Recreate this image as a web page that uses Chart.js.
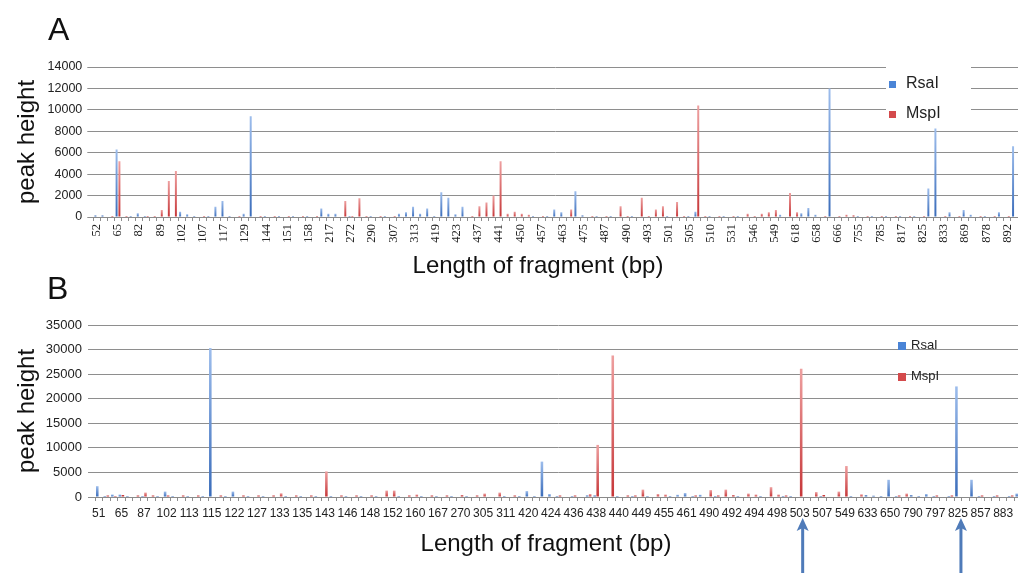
<!DOCTYPE html>
<html>
<head>
<meta charset="utf-8">
<script src="https://cdn.jsdelivr.net/npm/chart.js@4.4.1/dist/chart.umd.min.js"></script>
<style>
  html, body { margin: 0; padding: 0; background: #fff; }
  body { width: 1018px; height: 573px; overflow: hidden; position: relative; font-family: 'Liberation Sans', Arial, sans-serif; }
  canvas { position: absolute; left: 0; }
  #chartA { top: 0; }
  #chartB { top: 280px; }
  .panel { position: absolute; font-size: 32px; line-height: 38px; color: #111; }
  .xtitle { position: absolute; width: 400px; text-align: center; font-size: 24px; line-height: 28px; color: #111; }
  .sw { position: absolute; }
  .lt { position: absolute; color: #222; white-space: nowrap; }
</style>
</head>
<body>
<canvas id="chartA" width="1018" height="290"></canvas>
<canvas id="chartB" width="1022" height="293"></canvas>
<div class="panel" style="left:48px;top:10px">A</div>
<div class="panel" style="left:47px;top:269px">B</div>
<div class="xtitle" style="left:338px;top:251px">Length of fragment (bp)</div>
<div class="xtitle" style="left:346px;top:529px">Length of fragment (bp)</div>
<div id="legendA"></div>
<div id="legendB"></div>
<script>
// series names
const seriesNames = ['RsaI', 'MspI'];

// panel A: every third fragment length is labelled
const labelsA = ['52', '65', '82', '89', '102', '107', '117', '129', '144', '151', '158', '217', '272', '290',
    '307', '313', '419', '423', '437', '441', '450', '457', '463', '475', '487', '490', '493', '501', '505',
    '510', '531', '546', '549', '618', '658', '666', '755', '785', '817', '825', '833', '869', '878', '892'];

const rsaA = [
    150, 150, 0, 6300, 0, 100, 350, 100, 0, 0,
    0, 0, 500, 250, 100, 0, 100, 950, 1500, 100,
    0, 300, 9400, 0, 100, 0, 100, 0, 100, 0,
    100, 0, 800, 300, 300, 0, 100, 0, 0, 100,
    0, 100, 0, 300, 450, 950, 300, 800, 100, 2300,
    1800, 250, 950, 0, 0, 0, 0, 0, 0, 0,
    0, 0, 100, 0, 100, 700, 450, 0, 2400, 150,
    0, 100, 0, 100, 0, 0, 100, 0, 0, 0,
    0, 100, 0, 0, 100, 500, 0, 100, 0, 100,
    0, 100, 0, 0, 0, 0, 0, 200, 0, 0,
    350, 850, 200, 0, 12000, 0, 0, 0, 100, 0,
    100, 0, 100, 0, 100, 0, 100, 0, 2650, 8250,
    0, 450, 0, 650, 200, 0, 100, 0, 450, 0,
    6600
];
const mspA = [
    0, 0, 100, 5200, 100, 0, 0, 100, 100, 650,
    3350, 4300, 0, 0, 0, 100, 0, 0, 0, 0,
    100, 0, 0, 100, 0, 100, 0, 100, 0, 100,
    0, 100, 0, 0, 0, 1500, 100, 1750, 100, 0,
    100, 0, 100, 0, 0, 0, 0, 0, 0, 0,
    0, 0, 0, 100, 1000, 1350, 2000, 5200, 300, 500,
    300, 200, 0, 100, 0, 0, 0, 700, 0, 0,
    100, 0, 100, 0, 1000, 100, 0, 1800, 100, 700,
    1000, 0, 1400, 100, 0, 10400, 100, 0, 100, 0,
    100, 0, 300, 100, 300, 450, 650, 0, 2250, 450,
    0, 0, 0, 100, 0, 100, 200, 150, 0, 100,
    0, 100, 0, 100, 0, 100, 0, 100, 0, 0,
    100, 0, 100, 0, 0, 100, 0, 100, 0, 100,
    0
];
const ticksA = [0, 2000, 4000, 6000, 8000, 10000, 12000, 14000];

// panel B
const labelsB = ['51', '65', '87', '102', '113', '115', '122', '127', '133', '135', '143', '146', '148', '152',
    '160', '167', '270', '305', '311', '420', '424', '436', '438', '440', '449', '455', '461', '490', '492',
    '494', '498', '503', '507', '549', '633', '650', '790', '797', '825', '857', '883'];

const rsaB = [
    2200, 200, 500, 500, 200, 0, 200, 0, 200, 1100,
    200, 0, 200, 0, 200, 30300, 0, 200, 1100, 0,
    200, 0, 200, 0, 0, 200, 0, 200, 0, 200,
    0, 200, 0, 200, 0, 200, 0, 200, 0, 0,
    200, 0, 0, 200, 0, 200, 0, 200, 0, 200,
    0, 0, 0, 0, 200, 0, 200, 1200, 200, 7200,
    600, 200, 0, 200, 0, 300, 300, 0, 0, 200,
    0, 200, 0, 200, 0, 0, 200, 450, 800, 200,
    450, 0, 200, 0, 0, 200, 0, 0, 200, 0,
    0, 200, 200, 0, 0, 0, 200, 0, 0, 0,
    200, 0, 350, 250, 200, 3500, 200, 0, 350, 200,
    600, 200, 0, 200, 22500, 0, 3500, 200, 0, 200,
    0, 200, 700
];
const mspB = [
    0, 300, 200, 400, 0, 300, 900, 300, 0, 300,
    0, 300, 0, 300, 0, 0, 300, 0, 0, 300,
    0, 300, 0, 300, 750, 0, 300, 0, 300, 0,
    5200, 0, 300, 0, 300, 0, 300, 0, 1300, 1300,
    0, 300, 500, 0, 300, 0, 300, 0, 350, 0,
    300, 700, 0, 900, 0, 300, 0, 0, 0, 0,
    0, 300, 0, 300, 0, 600, 10600, 0, 28800, 0,
    300, 300, 1500, 0, 600, 500, 0, 0, 0, 300,
    0, 1400, 300, 1500, 350, 0, 700, 500, 0, 2000,
    500, 300, 0, 26100, 0, 1000, 400, 0, 1100, 6300,
    0, 550, 0, 0, 0, 0, 300, 700, 0, 0,
    0, 300, 0, 300, 0, 0, 0, 300, 0, 300,
    0, 300, 0
];
const ticksB = [0, 5000, 10000, 15000, 20000, 25000, 30000, 35000];
const arrowLabelsB = ['503', '825'];

const blueLight = '#9dbdec', blueDark = '#3a6cba';
const redLight = '#eea0a0', redDark = '#c63638';

// labelled category followed by two unlabelled ones
function spread(labels, n) {
    return labels.flatMap(l => [l, '', '']).slice(0, n);
}

function barFill(light, dark) {
    return function(ctx) {
        const chart = ctx.chart;
        if (ctx.type !== 'data' || !chart.chartArea || !chart.scales.y) return dark;
        const y = chart.scales.y;
        const top = y.getPixelForValue(ctx.raw || 0);
        const bottom = y.getPixelForValue(0);
        if (bottom - top < 2) return dark;
        const g = chart.ctx.createLinearGradient(0, top, 0, bottom);
        g.addColorStop(0, light);
        g.addColorStop(1, dark);
        return g;
    };
}

const arrowPlugin = {
    id: 'arrows',
    afterDraw(chart) {
        if (!chart.options.plugins.arrows) return;
        const x = chart.scales.x;
        const c = chart.ctx;
        const cats = chart.data.labels;
        c.save();
        c.strokeStyle = '#4f7bb9';
        c.fillStyle = '#4f7bb9';
        c.lineWidth = 3;
        chart.options.plugins.arrows.labels.forEach(lbl => {
            const px = x.getPixelForValue(cats.indexOf(lbl)) + 3;
            const tip = chart.height - 55;
            c.beginPath();
            c.moveTo(px, tip + 8);
            c.lineTo(px, chart.height);
            c.stroke();
            c.beginPath();
            c.moveTo(px, tip);
            c.lineTo(px - 6, tip + 13);
            c.lineTo(px, tip + 10);
            c.lineTo(px + 6, tip + 13);
            c.closePath();
            c.fill();
        });
        c.restore();
    }
};

function makeChart(id, cats, rsa, msp, yTicks, cfg) {
    const ctx = document.getElementById(id).getContext('2d');
    return new Chart(ctx, {
        type: 'bar',
        data: {
            labels: cats,
            datasets: [
                { label: seriesNames[0], data: rsa, backgroundColor: barFill(blueLight, blueDark),
                  categoryPercentage: 0.8, barPercentage: cfg.barPct },
                { label: seriesNames[1], data: msp, backgroundColor: barFill(redLight, redDark),
                  categoryPercentage: 0.8, barPercentage: cfg.barPct }
            ]
        },
        plugins: [arrowPlugin],
        options: {
            responsive: false,
            animation: false,
            devicePixelRatio: 1,
            layout: { padding: { top: cfg.top, left: 0, right: 0, bottom: 0 } },
            plugins: {
                legend: { display: false },
                tooltip: { enabled: false },
                arrows: cfg.arrows
            },
            scales: {
                x: {
                    offset: true,
                    grid: { display: true, drawOnChartArea: false, drawTicks: true, tickLength: 4,
                            offset: true, color: '#8f8f8f' },
                    border: { display: true, color: '#8a8a8a' },
                    ticks: {
                        autoSkip: false,
                        minRotation: cfg.rot, maxRotation: cfg.rot,
                        padding: cfg.xPad,
                        color: '#222',
                        font: cfg.xFont
                    },
                    afterFit: s => { s.height = cfg.xHeight; s.paddingLeft = 0; s.paddingRight = 0; }
                },
                y: {
                    min: 0,
                    max: yTicks[yTicks.length - 1],
                    afterBuildTicks: s => { s.ticks = yTicks.map(v => ({ value: v })); },
                    grid: { color: '#8e8e8e', tickLength: cfg.yTick, drawTicks: true },
                    border: { display: false },
                    ticks: {
                        padding: cfg.yPad,
                        color: '#222',
                        font: { family: "'Liberation Sans', Arial, sans-serif", size: cfg.ySize },
                        callback: v => String(v)
                    },
                    title: {
                        display: true,
                        text: 'peak height',
                        color: '#111',
                        font: { family: "'Liberation Sans', Arial, sans-serif", size: 24 },
                        padding: { top: 13, bottom: 0 }
                    },
                    afterFit: s => { s.width = cfg.yWidth; s.paddingTop = 0; s.paddingBottom = 0; }
                }
            }
        }
    });
}

function makeLegend(id, box) {
    const el = document.getElementById(id);
    el.style.cssText = `position:absolute;left:${box.left}px;top:${box.top}px;width:${box.w}px;height:${box.h}px;` +
        (box.bg ? 'background:#fff;' : '');
    const colors = ['#4a84d6', '#d44a4c'];
    seriesNames.forEach((name, i) => {
        const sw = document.createElement('div');
        sw.className = 'sw';
        sw.style.cssText = `left:${box.swX}px;top:${box.rowY[i] - box.sw / 2 + 1}px;width:${box.sw}px;height:${box.sw}px;background:${colors[i]}`;
        el.appendChild(sw);
        const t = document.createElement('div');
        t.className = 'lt';
        t.textContent = name;
        t.style.cssText = `left:${box.txtX}px;top:${box.rowY[i] - box.font * 0.6}px;font-size:${box.font}px;line-height:${box.font * 1.2}px`;
        el.appendChild(t);
    });
}

makeChart('chartA', spread(labelsA, rsaA.length), rsaA, mspA, ticksA, {
    top: 67, xHeight: 73, yWidth: 93.3, yTick: 6, yPad: 5, ySize: 12.5, rot: 90, xPad: 3,
    xFont: { family: "'Liberation Serif', 'Times New Roman', serif", size: 12.5 },
    barPct: 0.7, arrows: false
});

makeChart('chartB', spread(labelsB, rsaB.length), rsaB, mspB, ticksB, {
    top: 45, xHeight: 76, yWidth: 95, yTick: 7, yPad: 6, ySize: 13, rot: 0, xPad: 5,
    xFont: { family: "'Liberation Sans', Arial, sans-serif", size: 12 },
    barPct: 0.85, arrows: { labels: arrowLabelsB }
});

makeLegend('legendA', { left: 886, top: 60, w: 85, h: 62, bg: true, swX: 3, txtX: 20, sw: 7, font: 16, rowY: [23, 53] });
makeLegend('legendB', { left: 896, top: 330, w: 70, h: 56, bg: false, swX: 2, txtX: 15, sw: 8, font: 13, rowY: [15, 46] });
</script>
</body>
</html>
